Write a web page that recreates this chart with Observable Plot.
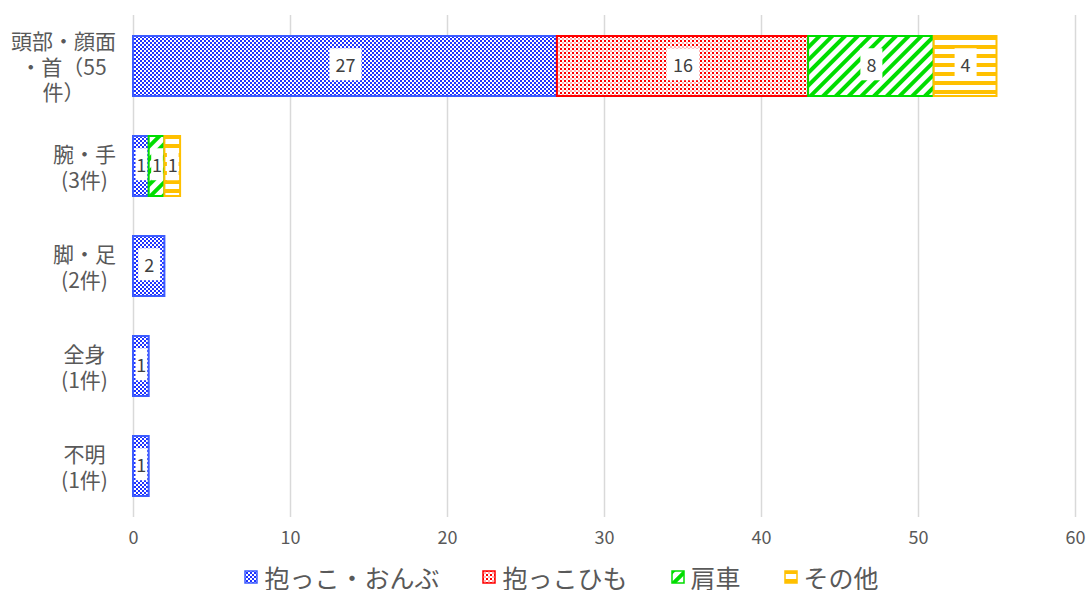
<!DOCTYPE html>
<html>
<head>
<meta charset="utf-8">
<script src="https://cdn.jsdelivr.net/npm/d3@7"></script>
<script src="https://cdn.jsdelivr.net/npm/@observablehq/plot@0.6"></script>
<style>
  body { margin: 0; background: #fff; font-family: "Noto Sans CJK JP", "Noto Sans", sans-serif; }
  #chart svg { display: block; }
  #legend { display: flex; justify-content: center; align-items: center; height: 26px; margin-top: 12px; padding-left: 36px; gap: 43px; color: #595959; font-size: 25px; }
  .item { display: flex; align-items: center; height: 26px; }
  .item span { display: block; line-height: 26px; }
  .item svg { margin-right: 6px; }
</style>
</head>
<body>
<svg width="0" height="0" style="position:absolute">
  <defs>
    <pattern id="pBlue" patternUnits="userSpaceOnUse" width="4" height="4">
      <rect width="4" height="4" fill="#ffffff"/>
      <rect x="0" y="0" width="2" height="2" fill="#1f33ff"/>
      <rect x="2" y="2" width="2" height="2" fill="#1f33ff"/>
    </pattern>
    <pattern id="pRed" patternUnits="userSpaceOnUse" width="4" height="4">
      <rect width="4" height="4" fill="#ffffff"/>
      <rect x="0" y="0" width="2" height="2" fill="#ff0000"/>
      <rect x="2" y="2" width="2" height="2" fill="#ffb3b3"/>
    </pattern>
    <pattern id="pGreen" patternUnits="userSpaceOnUse" width="9" height="9" patternTransform="rotate(45)">
      <rect width="9" height="9" fill="#ffffff"/>
      <rect x="0" y="0" width="4" height="9" fill="#00dd00"/>
    </pattern>
    <pattern id="pYellow" patternUnits="userSpaceOnUse" width="9" height="9">
      <rect width="9" height="9" fill="#ffffff"/>
      <rect x="0" y="0" width="9" height="4" fill="#ffc000"/>
    </pattern>
  </defs>
</svg>
<div id="chart"></div>
<div id="legend"></div>
<script>
const categories = ["頭部・顔面・首", "腕・手", "脚・足", "全身", "不明"];
const tickLabels = ["頭部・顔面\n・首（55\n件）", "腕・手\n(3件)", "脚・足\n(2件)", "全身\n(1件)", "不明\n(1件)"];
const seriesNames = ["抱っこ・おんぶ", "抱っこひも", "肩車", "その他"];
const dakkoOnbu = [27, 1, 2, 1, 1];
const dakkoHimo = [16, 0, 0, 0, 0];
const kataguruma = [8, 1, 0, 0, 0];
const sonota = [4, 1, 0, 0, 0];
const xTicks = [0, 10, 20, 30, 40, 50, 60];

const seriesValues = [dakkoOnbu, dakkoHimo, kataguruma, sonota];
const patternIds = ["pBlue", "pRed", "pGreen", "pYellow"];
const strokeColors = ["#3d5cff", "#ff0000", "#00dd00", "#ffc000"];

const rows = [];
seriesNames.forEach((s, si) => categories.forEach((c, ci) => {
  rows.push({cat: c, series: s, si, value: seriesValues[si][ci]});
}));
const bars = rows.filter(d => d.value > 0);

const fmt = d => tickLabels[categories.indexOf(d)];

const plot = Plot.plot({
  width: 1087,
  height: 552,
  marginLeft: 133,
  marginRight: 12,
  marginTop: 15,
  marginBottom: 35,
  style: {fontFamily: '"Noto Sans CJK JP", "Noto Sans", sans-serif', color: "#595959", background: "white"},
  x: {domain: [0, 60]},
  y: {domain: categories, paddingInner: 0.4, paddingOuter: 0.2},
  color: {type: "identity"},
  marks: [
    Plot.gridX(xTicks, {stroke: "#d9d9d9", strokeOpacity: 1, strokeWidth: 1.5}),
    Plot.barX(bars, Plot.stackX({
      x: "value", y: "cat", z: "series",
      fill: d => `url(#${patternIds[d.si]})`,
      stroke: d => strokeColors[d.si],
      strokeWidth: 2
    })),
    Plot.text(bars, Plot.stackX({
      x: "value", y: "cat", z: "series",
      text: d => String(d.value),
      fill: "#404040", fontSize: 18
    })),
    Plot.axisX(xTicks, {tickSize: 0, tickPadding: 14, fontSize: 18, label: null}),
    Plot.axisY([categories[0]], {tickSize: 0, tickPadding: 0, textAnchor: "middle", dx: -70, fontSize: 21, lineHeight: 1.22, tickFormat: fmt, label: null}),
    Plot.axisY(categories.slice(1), {tickSize: 0, tickPadding: 0, textAnchor: "middle", dx: -49, fontSize: 21, lineHeight: 1.25, tickFormat: fmt, label: null})
  ]
});
document.getElementById("chart").append(plot);

// white label boxes behind data labels
const xs = plot.scale("x");
const textG = plot.querySelector('g[aria-label="text"]');
if (textG) {
  const svgRect = plot.getBoundingClientRect();
  const boxG = document.createElementNS("http://www.w3.org/2000/svg", "g");
  const texts = textG.querySelectorAll("text");
  texts.forEach((t, i) => {
    const d = bars[i];
    const r = t.getBoundingClientRect();
    const segW = xs.apply(d.value) - xs.apply(0);
    const w = Math.min(r.width + 12, segW - 4);
    const h = 32;
    const cx = r.left - svgRect.left + r.width / 2;
    const cy = r.top - svgRect.top + r.height / 2;
    const rect = document.createElementNS("http://www.w3.org/2000/svg", "rect");
    rect.setAttribute("x", cx - w / 2);
    rect.setAttribute("y", cy - h / 2);
    rect.setAttribute("width", w);
    rect.setAttribute("height", h);
    rect.setAttribute("fill", "#ffffff");
    boxG.appendChild(rect);
  });
  plot.insertBefore(boxG, textG);
}

// legend
const legend = document.getElementById("legend");
seriesNames.forEach((s, i) => {
  const item = document.createElement("div");
  item.className = "item";
  item.innerHTML = `<svg width="14" height="14"><rect x="1" y="1" width="12" height="12" fill="url(#${patternIds[i]})" stroke="${strokeColors[i]}" stroke-width="1.5"/></svg><span>${s}</span>`;
  legend.appendChild(item);
});
</script>
</body>
</html>
